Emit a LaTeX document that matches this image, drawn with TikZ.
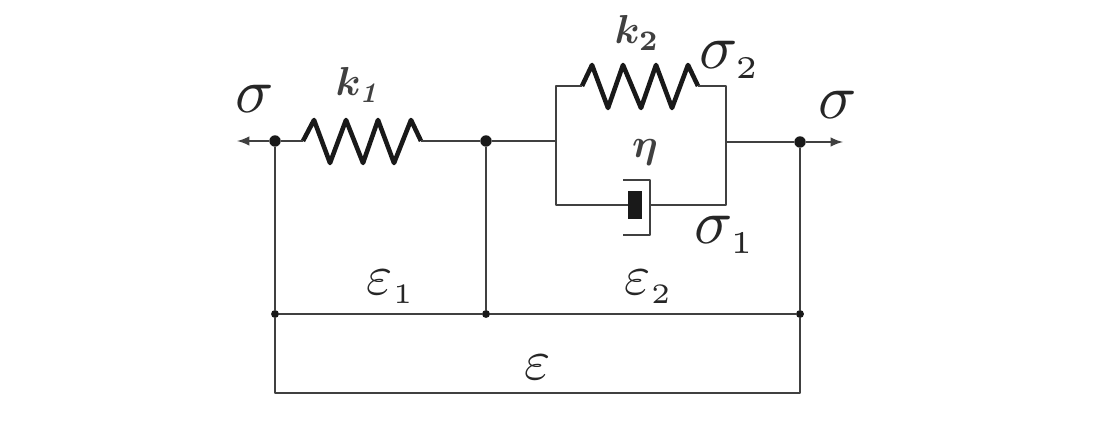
\documentclass[tikz,border=0pt]{standalone}
\tikzset{
    wire/.style={draw=black!75,line width=1.4pt,line join=round},
    coil/.style={draw=black!90,line width=2.6pt,line join=round},
    joint/.style={circle,fill=black!90,inner sep=0pt,minimum size=6.5pt},
    damper/.style={fill=black!90,inner sep=0pt,minimum width=0.28cm,minimum height=0.56cm},
    sym/.style={inner sep=0pt,text=black!85,scale=3.6},
    epssym/.style={inner sep=0pt,text=black!85,scale=3.2},
    smallsym/.style={inner sep=0pt,text=black!75,scale=2.3,font=\boldmath}
}
\begin{document}
\begin{tikzpicture}
    \useasboundingbox (0,0) rectangle (22,8.4);

    % Knoten
    \coordinate (tipL) at (4.74,5.58);
    \node[joint] (J1) at (5.5,5.58) {};
    \coordinate (S1a) at (6.06,5.58);
    \coordinate (S1b) at (8.42,5.58);
    \node[joint] (J2) at (9.72,5.58) {};
    \coordinate (PL) at (11.12,5.58);
    \coordinate (PR) at (14.52,5.56);
    \node[joint] (J3) at (16,5.56) {};
    \coordinate (tipR) at (16.86,5.56);

    \coordinate (TL) at (11.12,6.68);
    \coordinate (TR) at (14.52,6.68);
    \coordinate (S2a) at (11.64,6.68);
    \coordinate (S2b) at (13.96,6.68);
    \coordinate (BL) at (11.12,4.3);
    \coordinate (BR) at (14.52,4.3);

    \node[damper] (D) at (12.7,4.3) {};
    \coordinate (DT) at (13,4.8);
    \coordinate (DB) at (13,3.7);
    \coordinate (DM) at (13,4.3);
    \coordinate (DTa) at (12.46,4.8);
    \coordinate (DBa) at (12.46,3.7);

    \node[joint,minimum size=4.5pt] (M1) at (5.5,2.12) {};
    \node[joint,minimum size=4.5pt] (M2) at (9.72,2.12) {};
    \node[joint,minimum size=4.5pt] (M3) at (16,2.12) {};
    \coordinate (B1) at (5.5,0.54);
    \coordinate (B3) at (16,0.54);

    % Federn
    \draw[coil] (S1a) -- (6.28,6) -- (6.6,5.14) -- (6.92,6) -- (7.26,5.14)
        -- (7.56,6) -- (7.88,5.14) -- (8.22,6) -- (S1b);
    \draw[coil] (S2a) -- (11.84,7.1) -- (12.16,6.24) -- (12.46,7.1) -- (12.82,6.24)
        -- (13.12,7.1) -- (13.44,6.24) -- (13.76,7.1) -- (S2b);

    % Leitungen
    \draw[wire,-latex] (J1) -- (tipL);
    \draw[wire] (J1) -- (S1a);
    \draw[wire] (S1b) -- (J2);
    \draw[wire] (J2) -- (PL);
    \draw[wire] (S2a) -- (TL) -- (BL) -- (D);
    \draw[wire] (S2b) -- (TR) -- (BR) -- (DM);
    \draw[wire] (PR) -- (J3);
    \draw[wire,-latex] (J3) -- (tipR);
    \draw[wire] (DTa) -- (DT) -- (DB) -- (DBa);

    % Rahmen
    \draw[wire] (J1) -- (M1);
    \draw[wire] (J2) -- (M2);
    \draw[wire] (J3) -- (M3);
    \draw[wire] (M1) -- (M2);
    \draw[wire] (M2) -- (M3);
    \draw[wire] (M1) -- (B1) -- (B3) -- (M3);

    % Beschriftung
    \node[sym] (sigL) at (5.1,6.42) {$\sigma$};
    \node[sym] (sigR) at (16.76,6.3) {$\sigma$};
    \node[smallsym] (k1) at (7.18,6.7) {$k_{\mathit{1}}$};
    \node[smallsym] (k2) at (12.74,7.74) {$k_2$};
    \node[sym] (sig2) at (14.6,7.2) {$\sigma_{\scriptscriptstyle 2}$};
    \node[sym] (sig1) at (14.5,3.7) {$\sigma_{\scriptscriptstyle 1}$};
    \node[smallsym] (eta) at (12.9,5.36) {$\eta$};
    \node[epssym] (eps1) at (7.82,2.66) {$\varepsilon_{\scriptscriptstyle 1}$};
    \node[epssym] (eps2) at (12.98,2.66) {$\varepsilon_{\scriptscriptstyle 2}$};
    \node[epssym] (eps) at (10.76,1.06) {$\varepsilon$};
\end{tikzpicture}
\end{document}
